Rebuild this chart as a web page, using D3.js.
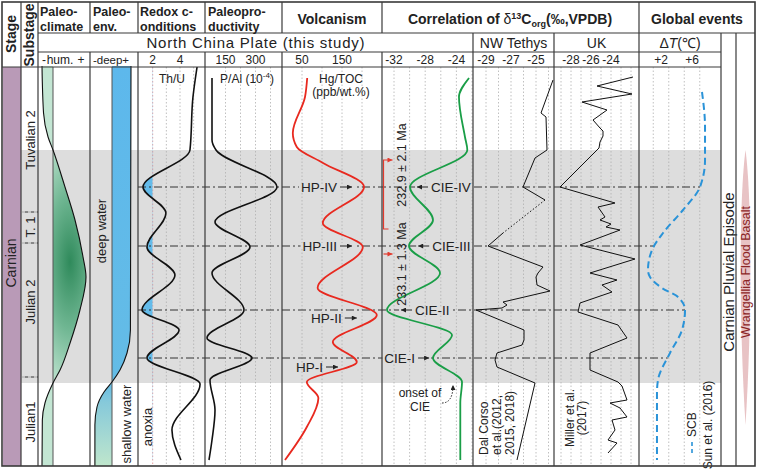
<!DOCTYPE html>
<html><head><meta charset="utf-8">
<script src="https://cdn.jsdelivr.net/npm/d3@7/dist/d3.min.js"></script>
<style>
html,body{margin:0;padding:0;background:#fff;}
svg{display:block;}
text{font-family:Arial,"Liberation Sans",Helvetica,sans-serif;}
</style></head>
<body><svg width="757" height="471"></svg>
<script>
// ---------------- DATA (depth = relative stratigraphic position, 0 = top, 400 = base) ----------------
const stageName = "Carnian";
const substages = [
  {name: "Tuvalian 2", top: 0, base: 146, mid: 74},
  {name: "T. 1", top: 146, base: 177, mid: 161},
  {name: "Julian 2", top: 177, base: 311, mid: 236},
  {name: "Julian1", top: 311, base: 400, mid: 356}
];
const cpeInterval = [84, 317];
const events = [
  {hp: "HP-IV", cie: "CIE-IV", depth: 121},
  {hp: "HP-III", cie: "CIE-III", depth: 180},
  {hp: "HP-II", cie: "CIE-II", depth: 244},
  {hp: "HP-I", cie: "CIE-I", depth: 292}
];
const hpLabels = [
  {name: "HP-IV", depth: 121, tip: 175},
  {name: "HP-III", depth: 180, tip: 175},
  {name: "HP-II", depth: 252, tip: 187},
  {name: "HP-I", depth: 301, tip: 140}
];
const cieLabels = [
  {name: "CIE-IV", depth: 121, tip: -29.05, side: "right"},
  {name: "CIE-III", depth: 180, tip: -28.9, side: "right"},
  {name: "CIE-II", depth: 244, tip: -31.1, side: "right"},
  {name: "CIE-I", depth: 292, tip: -27.5, side: "left"}
];
const ages = [
  {label: "232.9 ± 2.1 Ma", depth: 99},
  {label: "233.1 ± 1.3 Ma", depth: 198}
];
const ageBracket = [94, 163];
const ageArrow = 188;

// paleoclimate humidity index (- hum. +), baseline 0
const paleoclimate = [[0,-1],[47,-0.86],[71,-0.45],[84,0],[121,1.09],[154,2.0],[191,2.73],[211,3.0],[244,2.45],[277,1.55],[304,0.64],[317,0],[337,-0.73],[354,-0.97],[400,-1]];
// paleo-environment water depth index (-deep+), baseline 0
const paleoenv = [[0,1],[264,0.97],[287,0.79],[304,0.42],[316,0],[326,-0.42],[341,-0.79],[359,-0.9],[400,-0.9]];
// Th/U
const thU = [[1,5.25],[31,4.95],[84,4.73],[121,1.29],[147,2.97],[181,1.58],[209,3.63],[244,1.22],[264,3.93],[292,1.58],[318,5.47],[364,3.41],[394,4.07]];
const anoxiaThreshold = 2;
// P/Al (10^-4)
const pAl = [[12,82.5],[74,82.5],[84,102.5],[121,407.5],[156,97.5],[181,272.5],[207,82.5],[244,242.5],[272,57.5],[292,282.5],[314,72.5],[344,97.5],[374,82.5],[394,67.5]];
// Hg/TOC (ppb/wt.%)
const hgToc = [[12,63],[31,57.5],[67,27],[81,37],[97,102.5],[121,205],[157,102],[181,202],[222,89],[249,237],[276,127],[296,187],[316,62],[332,91],[361,62],[394,7.5]];
// d13Corg North China
const d13cNC = [[12,-22.38],[31,-23.67],[71,-22.9],[84,-22.6],[121,-29.95],[154,-27.0],[180,-30.08],[207,-26.1],[244,-32.9],[269,-24.56],[292,-27.0],[316,-23.28],[337,-23.5],[394,-23.5]];
// NW Tethys
const nwUpper = [[14,-23.64],[47,-24.6],[51,-24.2],[84,-24.12],[92,-25.08],[121,-26.04],[134,-24.28]];
const nwDotted = [[134,-24.28],[167,-27.64]];
const nwLower = [[167,-27.64],[180,-28.84],[201,-24.44],[207,-24.84],[211,-25.0],[219,-24.92],[225,-23.88],[236,-27.64],[239,-27.32],[242,-27.72],[244,-29.8],[264,-25.96],[274,-25.96],[279,-26.12],[287,-28.12],[294,-28.28],[301,-28.12],[317,-25.08],[394,-26.52]];
// UK
const ukData = [[11,-21.8],[20,-25.4],[28,-21.9],[36,-26.9],[44,-24.4],[54,-25.8],[62,-25.1],[65,-24.8],[70,-24.8],[76,-25.1],[82,-25.2],[121,-29.1],[137,-23.6],[141,-25.3],[151,-24.6],[154,-25.1],[158,-24.0],[161,-24.5],[164,-23.1],[179,-27.1],[193,-21.6],[207,-26.1],[214,-23.4],[219,-24.9],[226,-23.9],[237,-27.1],[246,-27.3],[259,-23.3],[272,-22.4],[287,-26.1],[304,-26.1],[316,-23.3],[320,-22.9],[334,-22.4],[337,-24.1],[342,-23.1],[351,-22.4],[354,-23.9],[364,-23.6],[374,-24.3],[377,-23.4],[387,-24.3]];
// Delta T (SCB)
const dT = [[26,7.29],[61,7.68],[94,7.68],[121,7.03],[144,4.84],[167,2.26],[184,0.84],[204,0.32],[211,0.58],[222,2.13],[231,4.19],[244,5.1],[264,4.71],[287,3.16],[314,1.61],[327,1.48],[394,1.48]];

// tick labels & grids
const redoxTicks = [2, 4], redoxGrid = [3, 4, 5];
const palTicks = [150, 300], palGrid = [150, 225, 300, 375];
const hgTicks = [50, 150], hgGrid = [50, 100, 150, 200];
const ncTicks = [-32, -28, -24], ncGrid = [-32, -30, -28, -26, -24, -22];
const nwTicks = [-29, -27, -25], nwGrid = [-29, -28, -27, -26, -25, -24];
const ukTicks = [-28, -26, -24], ukGrid = [-29, -28, -27, -26, -25, -24, -23, -22];
const dtTicks = [2, 6], dtGrid = [1, 3, 5, 7];

// ---------------- LAYOUT ----------------
const TOP = 2, R1 = 33, R2 = 52, R3 = 67, BOT = 466, LEFT = 2, RIGHT = 755;
const INK = "#222", LINE = "#3a3a3a";
const svg = d3.select("svg");
const defs = svg.append("defs");

const y = d3.scaleLinear().domain([0, 400]).range([66, 466]);
const xClim = d3.scaleLinear().domain([-1, 3]).range([42, 86]);
const xEnv = d3.scaleLinear().domain([-1, 1]).range([93, 131]);
const xThU = d3.scaleLinear().domain([1, 5]).range([139.05, 193.65]);
const xPAl = d3.scaleLinear().domain([50, 425]).range([205.5, 280.5]);
const xHg = d3.scaleLinear().domain([0, 250]).range([282, 382]);
const xNC = d3.scaleLinear().domain([-32, -24]).range([394, 456.4]);
const xNW = d3.scaleLinear().domain([-29, -25]).range([486, 536]);
const xUK = d3.scaleLinear().domain([-28, -24]).range([571, 611]);
const xDT = d3.scaleLinear().domain([2, 6]).range([661, 692]);

// gradients
const rg = defs.append("radialGradient").attr("id", "gClim").attr("gradientUnits", "userSpaceOnUse")
  .attr("cx", 70).attr("cy", 262).attr("r", 46)
  .attr("gradientTransform", "translate(70 262) scale(1 2.9) translate(-70 -262)");
rg.append("stop").attr("offset", 0).attr("stop-color", "#2f8a5b");
rg.append("stop").attr("offset", 0.5).attr("stop-color", "#6fb692");
rg.append("stop").attr("offset", 1).attr("stop-color", "#c3e6d3");
const lg = defs.append("linearGradient").attr("id", "gEnv").attr("gradientUnits", "userSpaceOnUse")
  .attr("x1", 0).attr("x2", 0).attr("y1", 66).attr("y2", 466);
lg.append("stop").attr("offset", 0).attr("stop-color", "#5db8ec");
lg.append("stop").attr("offset", 0.79).attr("stop-color", "#64bce6");
lg.append("stop").attr("offset", 0.84).attr("stop-color", "#86c9da");
lg.append("stop").attr("offset", 1).attr("stop-color", "#bfe6cc");

function marker(id, color) {
  defs.append("marker").attr("id", id).attr("viewBox", "0 0 10 10").attr("refX", 10).attr("refY", 5)
    .attr("markerWidth", 6).attr("markerHeight", 5).attr("markerUnits", "userSpaceOnUse").attr("orient", "auto")
    .append("path").attr("d", "M0,0 L10,5 L0,10 Z").attr("fill", color);
}
marker("ak", INK); marker("ar", "#e23a2e");

defs.append("clipPath").attr("id", "clipAnox").append("rect")
  .attr("x", 138).attr("y", R3).attr("width", xThU(anoxiaThreshold) - 138).attr("height", BOT - R3);

// helpers
function txt(g, x, yy, s, o = {}) {
  const t = g.append("text").attr("x", x).attr("y", yy).text(s)
    .attr("font-size", o.size || 12).attr("fill", o.fill || INK)
    .attr("text-anchor", o.anchor || "start");
  if (o.bold) t.attr("font-weight", "bold");
  if (o.len) t.attr("textLength", o.len).attr("lengthAdjust", "spacing");
  return t;
}
function vtxt(g, x, yy, s, o = {}) {
  const t = g.append("text").attr("transform", `translate(${x},${yy}) rotate(-90)`).attr("dy", "0.35em").text(s)
    .attr("font-size", o.size || 12).attr("fill", o.fill || INK)
    .attr("text-anchor", o.anchor || "middle");
  if (o.bold) t.attr("font-weight", "bold");
  return t;
}
function vline(x, y1, y2, w = 1.2, c = LINE) {
  svg.append("line").attr("x1", x).attr("x2", x).attr("y1", y1).attr("y2", y2).attr("stroke", c).attr("stroke-width", w);
}
function hline(yy, x1, x2, w = 1.2, c = LINE) {
  svg.append("line").attr("x1", x1).attr("x2", x2).attr("y1", yy).attr("y2", yy).attr("stroke", c).attr("stroke-width", w);
}

// ---------------- BACKGROUNDS ----------------
svg.append("rect").attr("width", 757).attr("height", 471).attr("fill", "#fff");
svg.append("rect").attr("x", 21).attr("width", 700).attr("y", y(cpeInterval[0]))
  .attr("height", y(cpeInterval[1]) - y(cpeInterval[0])).attr("fill", "#dddddd");
svg.append("rect").attr("x", 3).attr("width", 18).attr("y", R3).attr("height", BOT - R3).attr("fill", "#b99ab7");

// gridlines
function grid(scale, vals, color) {
  svg.append("g").selectAll("line").data(vals).join("line")
    .attr("x1", d => scale(d)).attr("x2", d => scale(d)).attr("y1", R3).attr("y2", BOT)
    .attr("stroke", color || "#b0b0b0").attr("stroke-width", 0.8).attr("stroke-dasharray", "1.5,2");
}
grid(xThU, redoxGrid); grid(xThU, [anoxiaThreshold], "#e58a8a");
grid(xPAl, palGrid); grid(xHg, hgGrid); grid(xNC, ncGrid); grid(xNW, nwGrid); grid(xUK, ukGrid); grid(xDT, dtGrid);

// ---------------- FILLS ----------------
const area = (xs) => d3.area().curve(d3.curveMonotoneY).y(d => y(d[0])).x0(xs(0)).x1(d => xs(d[1]));
svg.append("path").datum(paleoclimate).attr("d", area(xClim)).attr("fill", "url(#gClim)");
svg.append("path").datum(paleoenv).attr("d", area(xEnv)).attr("fill", "url(#gEnv)");
svg.append("path").datum(thU)
  .attr("d", d3.area().curve(d3.curveMonotoneY).y(d => y(d[0])).x0(xThU(anoxiaThreshold)).x1(d => xThU(d[1])))
  .attr("fill", "#63bbea").attr("clip-path", "url(#clipAnox)");

// baselines
vline(xClim(0), R3, BOT, 1, "#555");
vline(xEnv(0), R3, BOT, 1, "#555");

// ---------------- EVENT LINES ----------------
const dTinterp = d3.scaleLinear().domain(dT.map(d => d[0])).range(dT.map(d => d[1]));
svg.append("g").selectAll("line").data(events).join("line")
  .attr("x1", 138).attr("x2", d => xDT(dTinterp(d.depth)))
  .attr("y1", d => y(d.depth)).attr("y2", d => y(d.depth))
  .attr("stroke", "#333").attr("stroke-width", 1).attr("stroke-dasharray", "8,3,2,3");

// ---------------- CURVES ----------------
const curve = (xs, c) => d3.line().curve(c || d3.curveMonotoneY).y(d => y(d[0])).x(d => xs(d[1]));
svg.append("path").datum(paleoclimate).attr("d", curve(xClim)).attr("fill", "none").attr("stroke", "#111").attr("stroke-width", 1.1);
svg.append("path").datum(paleoenv).attr("d", curve(xEnv)).attr("fill", "none").attr("stroke", "#111").attr("stroke-width", 1.1);
svg.append("path").datum(thU).attr("d", curve(xThU)).attr("fill", "none").attr("stroke", "#111").attr("stroke-width", 1.6);
svg.append("path").datum(pAl).attr("d", curve(xPAl)).attr("fill", "none").attr("stroke", "#111").attr("stroke-width", 1.6);
svg.append("path").datum(hgToc).attr("d", curve(xHg)).attr("fill", "none").attr("stroke", "#e8291f").attr("stroke-width", 1.8);
svg.append("path").datum(d13cNC).attr("d", curve(xNC)).attr("fill", "none").attr("stroke", "#1a9e47").attr("stroke-width", 1.8);
svg.append("path").datum(nwUpper).attr("d", curve(xNW, d3.curveLinear)).attr("fill", "none").attr("stroke", "#111").attr("stroke-width", 1);
svg.append("path").datum(nwDotted).attr("d", curve(xNW, d3.curveLinear)).attr("fill", "none").attr("stroke", "#111").attr("stroke-width", 1).attr("stroke-dasharray", "1.5,2");
svg.append("path").datum(nwLower).attr("d", curve(xNW, d3.curveLinear)).attr("fill", "none").attr("stroke", "#111").attr("stroke-width", 1);
svg.append("path").datum(ukData).attr("d", curve(xUK, d3.curveLinear)).attr("fill", "none").attr("stroke", "#111").attr("stroke-width", 1);
svg.append("path").datum(dT).attr("d", curve(xDT)).attr("fill", "none").attr("stroke", "#2a93d8").attr("stroke-width", 2).attr("stroke-dasharray", "7,4");

// ---------------- LABELS ON PLOT ----------------
const lab = svg.append("g");
const eventDepths = events.map(e => e.depth);
function bgBehind(g, yy) {
  const bb = g.node().getBBox();
  g.insert("rect", ":first-child").attr("x", bb.x - 2).attr("y", yy - 3).attr("width", bb.width + 4).attr("height", 6).attr("fill", "#dddddd");
}
hpLabels.forEach(d => {
  const g = lab.append("g"), yy = y(d.depth), tip = xHg(d.tip);
  txt(g, tip - 15, yy, d.name, {size: 13.5, anchor: "end"}).attr("dy", "0.35em");
  g.append("line").attr("x1", tip - 12).attr("x2", tip).attr("y1", yy).attr("y2", yy).attr("stroke", INK).attr("stroke-width", 1).attr("marker-end", "url(#ak)");
  if (eventDepths.includes(d.depth)) bgBehind(g, yy);
});
cieLabels.forEach(d => {
  const g = lab.append("g"), yy = y(d.depth), tip = xNC(d.tip);
  if (d.side === "right") {
    txt(g, tip + 14, yy, d.name, {size: 13.5}).attr("dy", "0.35em");
    g.append("line").attr("x1", tip + 11).attr("x2", tip).attr("y1", yy).attr("y2", yy).attr("stroke", INK).attr("stroke-width", 1).attr("marker-end", "url(#ak)");
  } else {
    txt(g, tip - 14, yy, d.name, {size: 13.5, anchor: "end"}).attr("dy", "0.35em");
    g.append("line").attr("x1", tip - 11).attr("x2", tip).attr("y1", yy).attr("y2", yy).attr("stroke", INK).attr("stroke-width", 1).attr("marker-end", "url(#ak)");
  }
  bgBehind(g, yy);
});

// red age bracket
const bx = 383.5;
lab.append("path").attr("d", `M${bx + 5},${y(ageBracket[1])} H${bx} V${y(ageBracket[0])} H${bx + 9}`)
  .attr("fill", "none").attr("stroke", "#e23a2e").attr("stroke-width", 1.2).attr("marker-end", "url(#ar)");
lab.append("line").attr("x1", bx).attr("x2", bx + 9).attr("y1", y(ageArrow)).attr("y2", y(ageArrow))
  .attr("stroke", "#e23a2e").attr("stroke-width", 1.2).attr("marker-end", "url(#ar)");
ages.forEach(a => vtxt(lab, 402, y(a.depth), a.label, {size: 12.5}));

// onset of CIE
txt(lab, 420, 397, "onset of", {size: 12, anchor: "middle"});
txt(lab, 420, 411, "CIE", {size: 12, anchor: "middle"});
lab.append("path").attr("d", "M442,403 Q453,403 453,385").attr("fill", "none").attr("stroke", INK)
  .attr("stroke-width", 1).attr("stroke-dasharray", "1.5,1.5").attr("marker-end", "url(#ak)");

// column annotations
txt(lab, 172, 83, "Th/U", {size: 12, anchor: "middle"});
const pal = txt(lab, 247, 83, "P/Al (10", {size: 12, anchor: "middle"});
pal.append("tspan").text("-4").attr("font-size", 8).attr("dy", -5);
pal.append("tspan").text(")").attr("dy", 5);
txt(lab, 341, 83, "Hg/TOC", {size: 12, anchor: "middle"});
txt(lab, 341, 96, "(ppb/wt.%)", {size: 12, anchor: "middle"});
vtxt(lab, 101, 231, "deep water", {size: 13});
vtxt(lab, 126, 424, "shallow water", {size: 13});
vtxt(lab, 147, 427, "anoxia", {size: 13});
vtxt(lab, 484, 455, "Dal Corso", {size: 12, anchor: "start"});
vtxt(lab, 497, 455, "et al.(2012,", {size: 12, anchor: "start"});
vtxt(lab, 510, 455, "2015, 2018)", {size: 12, anchor: "start"});
vtxt(lab, 570, 418, "Miller et al.", {size: 12});
vtxt(lab, 582, 418, "(2017)", {size: 12});
lab.append("line").attr("x1", 692).attr("x2", 692).attr("y1", 453).attr("y2", 441)
  .attr("stroke", "#2a93d8").attr("stroke-width", 1.6).attr("stroke-dasharray", "4,3");
vtxt(lab, 692, 437, "SCB", {size: 12, anchor: "start"});
vtxt(lab, 708, 425, "Sun et al. (2016)", {size: 12});

// CPE & Wrangellia
vtxt(lab, 729, 272, "Carnian Pluvial Episode", {size: 15});
lab.append("path").attr("d", "M745.5,150 C752,200 752,320 745.5,425 C739,320 739,200 745.5,150 Z").attr("fill", "#e8c3c5");
vtxt(lab, 746, 272, "Wrangellia Flood Basalt", {size: 12.5, fill: "#8b2525"});

// stage / substage
vtxt(lab, 11.5, 263, stageName, {size: 14});
substages.forEach(s => vtxt(lab, 30, y(s.mid), s.name, {size: 13}));
substages.slice(1).forEach(s => hline(y(s.top), 22, 38, 1, "#333"));

// ---------------- GRID / FRAME ----------------
hline(R1, 38, RIGHT); hline(R2, 38, 721); hline(R3, LEFT, 721);
vline(21, TOP, BOT); vline(38, TOP, BOT);
[90, 138, 205, 282, 382].forEach(x => { vline(x, TOP, R1); vline(x, R2, BOT); });
[473, 554, 721, 736].forEach(x => vline(x, R1, BOT));
vline(639, TOP, BOT);
svg.append("rect").attr("x", LEFT).attr("y", TOP).attr("width", RIGHT - LEFT).attr("height", BOT - TOP)
  .attr("fill", "none").attr("stroke", LINE).attr("stroke-width", 1.6);
// dashed substage boundaries
substages.slice(1).forEach(s => {
  svg.append("line").attr("x1", 22).attr("x2", 38).attr("y1", y(s.top)).attr("y2", y(s.top))
    .attr("stroke", "#fff").attr("stroke-width", 1.2).attr("stroke-dasharray", "3,3");
});

// ---------------- HEADER TEXT ----------------
const hdr = svg.append("g");
vtxt(hdr, 11.5, 34, "Stage", {size: 14, bold: true});
vtxt(hdr, 29.5, 35, "Substage", {size: 14, bold: true});
[["Paleo-", "climate", 40], ["Paleo-", "env.", 93], ["Redox c-", "onditions", 140], ["Paleopro-", "ductivity", 208]].forEach(([a, b, x]) => {
  txt(hdr, x, 16, a, {size: 12.5, bold: true});
  txt(hdr, x, 30.5, b, {size: 12.5, bold: true});
});
txt(hdr, 332, 24, "Volcanism", {size: 14, bold: true, anchor: "middle"});
const ct = hdr.append("text").attr("x", 510).attr("y", 24).attr("text-anchor", "middle")
  .attr("font-size", 14).attr("font-weight", "bold").attr("fill", INK);
ct.append("tspan").text("Correlation of ");
ct.append("tspan").text("δ").attr("font-weight", "normal");
ct.append("tspan").text("13").attr("font-size", 9).attr("dy", -5);
ct.append("tspan").text("C").attr("dy", 5);
ct.append("tspan").text("org").attr("font-size", 9).attr("dy", 3);
ct.append("tspan").text("(‰,VPDB)").attr("dy", -3);
txt(hdr, 697, 24, "Global events", {size: 14, bold: true, anchor: "middle"});

txt(hdr, 255.5, 48, "North China Plate (this study)", {size: 15, anchor: "middle", len: 218});
txt(hdr, 513.5, 48, "NW Tethys", {size: 14, anchor: "middle"});
txt(hdr, 596.5, 48, "UK", {size: 14, anchor: "middle"});
const dtt = hdr.append("text").attr("x", 680).attr("y", 48).attr("text-anchor", "middle").attr("font-size", 14).attr("fill", INK);
dtt.append("tspan").text("Δ");
dtt.append("tspan").text("T").attr("font-style", "italic");
dtt.append("tspan").text("(℃)");

// row 3 ticks
const TY = 64;
txt(hdr, 44, TY, "-", {size: 12, anchor: "middle"});
txt(hdr, 60, TY, "hum.", {size: 12, anchor: "middle"});
txt(hdr, 81, TY, "+", {size: 12, anchor: "middle"});
txt(hdr, 111, TY, "-deep+", {size: 11.5, anchor: "middle"});
function ticks(scale, vals, fmt) {
  hdr.append("g").selectAll("text").data(vals).join("text")
    .attr("x", d => scale(d)).attr("y", TY).attr("text-anchor", "middle").attr("font-size", 12).attr("fill", INK)
    .text(fmt || (d => d));
}
ticks(xThU, redoxTicks); ticks(xPAl, palTicks); ticks(xHg, hgTicks);
ticks(xNC, ncTicks); ticks(xNW, nwTicks); ticks(xUK, ukTicks); ticks(xDT, dtTicks, d => "+" + d);
</script></body></html>
